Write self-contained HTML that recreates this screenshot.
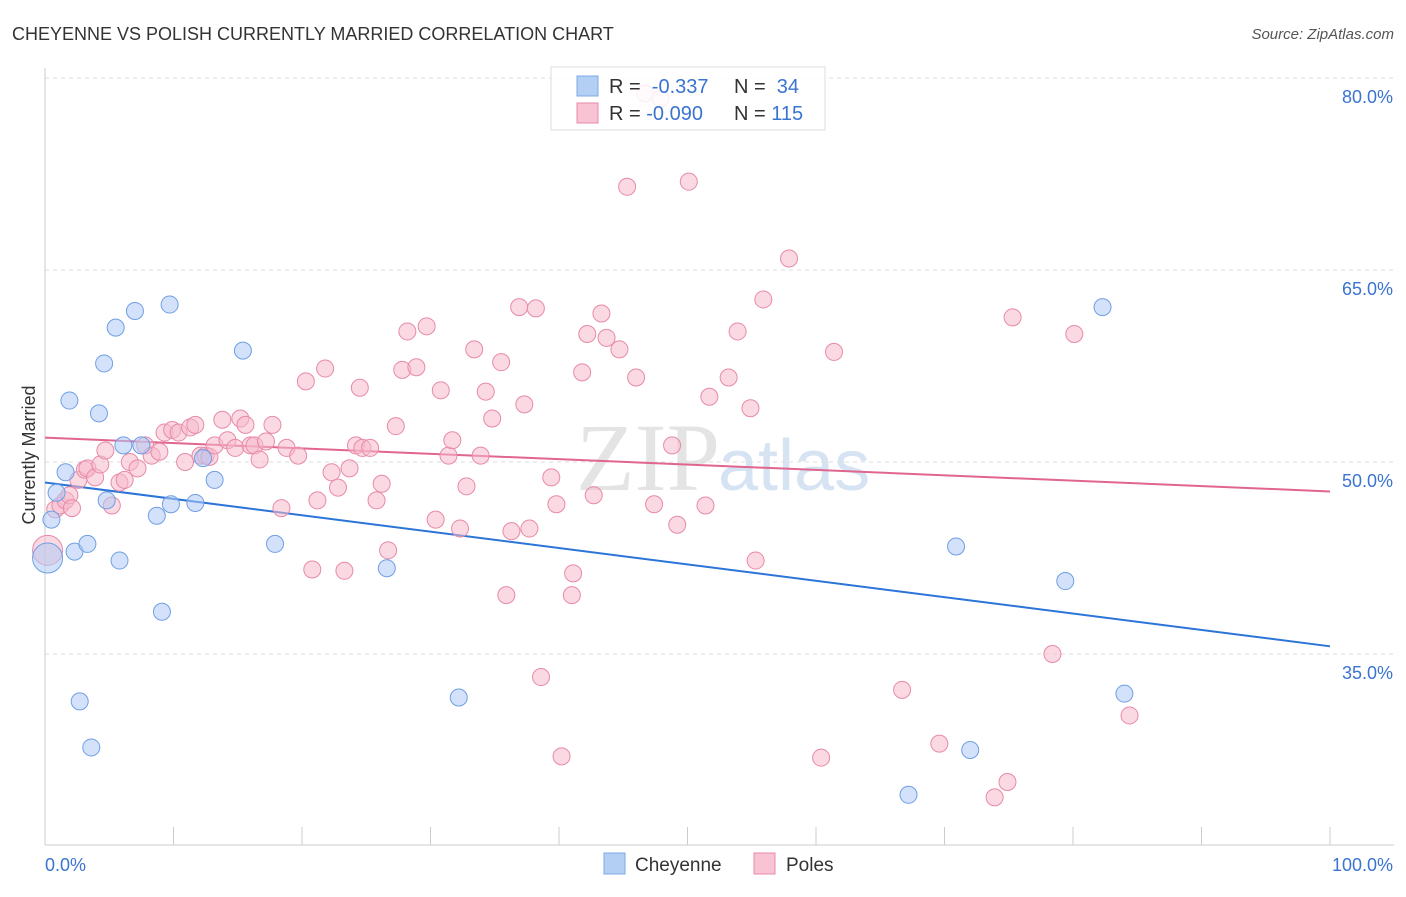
<!DOCTYPE html>
<html><head><meta charset="utf-8"><style>
body{margin:0;background:#fff;width:1406px;height:892px;overflow:hidden;font-family:"Liberation Sans",sans-serif}
</style></head><body>
<svg id="chart" width="1406" height="892" xmlns="http://www.w3.org/2000/svg" font-family="Liberation Sans, sans-serif">
<text x="12" y="40" font-size="18" fill="#333">CHEYENNE VS POLISH CURRENTLY MARRIED CORRELATION CHART</text>
<text x="1394" y="39" font-size="15" fill="#555" font-style="italic" text-anchor="end">Source: ZipAtlas.com</text>
<text x="720" y="490" font-size="96" fill="#e4e4e4" text-anchor="end" font-family="Liberation Serif, serif">ZIP</text>
<text x="718" y="490" font-size="72" fill="#d6e3f3">atlas</text>
<g id="grid"></g><g id="axes"></g><g id="lines"></g><g id="pts"></g>
<text x="35" y="455" font-size="18" fill="#333" transform="rotate(-90 35 455)" text-anchor="middle">Currently Married</text>
<g>
<rect x="551" y="67" width="274" height="63" fill="#fff" fill-opacity="0.85" stroke="#ddd"/>
<rect x="577" y="76" width="21" height="20" fill="#b3cff4" stroke="#7fa9e6"/>
<rect x="577" y="103" width="21" height="20" fill="#f8c4d3" stroke="#e88aa8"/>
<text x="609" y="93" font-size="20" fill="#333">R = <tspan fill="#3a74d0">&#160;-0.337</tspan></text>
<text x="734" y="93" font-size="20" fill="#333">N = <tspan fill="#3a74d0">&#160;34</tspan></text>
<text x="609" y="120" font-size="20" fill="#333">R = <tspan fill="#3a74d0">-0.090</tspan></text>
<text x="734" y="120" font-size="20" fill="#333">N = <tspan fill="#3a74d0">115</tspan></text>
</g>
<g>
<rect x="604" y="853" width="21" height="21" fill="#b3cff4" stroke="#7fa9e6"/>
<text x="635" y="871" font-size="19" fill="#333">Cheyenne</text>
<rect x="754" y="853" width="21" height="21" fill="#f8c4d3" stroke="#e88aa8"/>
<text x="786" y="871" font-size="19" fill="#333">Poles</text>
</g>
</svg>
<script>
const yTicks=[35,50,65,80];
const yTickLabels=["35.0%","50.0%","65.0%","80.0%"];
const xTicks=[0,10,20,30,40,50,60,70,80,90,100];
const xEndLabels=["0.0%","100.0%"];
const blueX=[0.2,0.5,0.9,1.6,1.9,2.3,2.7,3.3,3.6,4.2,4.6,4.8,5.5,5.8,6.1,7.0,7.5,8.7,9.1,9.7,9.8,11.7,12.3,13.2,15.4,17.9,26.6,32.2,67.2,70.9,72.0,79.4,82.3,84.0];
const blueY=[42.5,45.5,47.6,49.2,54.8,43.0,31.3,43.6,27.7,53.8,57.7,47.0,60.5,42.3,51.3,61.8,51.3,45.8,38.3,62.3,46.7,46.8,50.3,48.6,58.7,43.6,41.7,31.6,24.0,43.4,27.5,40.7,62.1,31.9];
const pinkX=[0.2,0.8,1.2,1.6,1.9,2.1,2.6,3.1,3.3,3.9,4.3,4.7,5.2,5.8,6.2,6.6,7.2,7.8,8.3,8.9,9.3,9.9,10.4,10.9,11.3,11.7,12.1,12.5,12.8,13.2,13.8,14.2,14.8,15.2,15.6,16.0,16.3,16.7,17.2,17.7,18.4,18.8,19.7,20.3,20.8,21.2,21.8,22.3,22.8,23.3,23.7,24.2,24.5,24.7,25.3,25.8,26.2,26.7,27.3,27.8,28.2,28.9,29.7,30.4,30.8,31.4,31.7,32.3,32.8,33.4,33.9,34.3,34.8,35.5,35.9,36.3,36.9,37.3,37.7,38.2,38.6,39.4,39.8,40.2,41.1,41.0,41.8,42.2,42.7,43.3,43.7,44.7,45.3,46.0,46.7,47.4,47.9,48.8,49.2,50.1,51.4,51.7,53.2,53.9,54.9,55.3,55.9,57.9,60.4,61.4,66.7,69.6,73.9,74.9,75.3,78.4,80.1,84.4];
const pinkY=[43.1,46.3,46.6,47.0,47.4,46.4,48.6,49.4,49.5,48.8,49.8,50.9,46.6,48.4,48.6,50.0,49.5,51.3,50.5,50.8,52.3,52.5,52.3,50.0,52.7,52.9,50.5,50.5,50.4,51.3,53.3,51.7,51.1,53.4,52.9,51.3,51.3,50.2,51.6,52.9,46.4,51.1,50.5,56.3,41.6,47.0,57.3,49.2,48.0,41.5,49.5,51.3,55.8,51.1,51.1,47.0,48.3,43.1,52.8,57.2,60.2,57.4,60.6,45.5,55.6,50.5,51.7,44.8,48.1,58.8,50.5,55.5,53.4,57.8,39.6,44.6,62.1,54.5,44.8,62.0,33.2,48.8,46.7,27.0,41.3,39.6,57.0,60.0,47.4,61.6,59.7,58.8,71.5,56.6,78.8,46.7,78.4,51.3,45.1,71.9,46.6,55.1,56.6,60.2,54.2,42.3,62.7,65.9,26.9,58.6,32.2,28.0,23.8,25.0,61.3,35.0,60.0,30.2];
const blueTrend=[48.4,35.6];
const pinkTrend=[51.9,47.7];
const NS="http://www.w3.org/2000/svg";
function X(v){return 45+v*12.85;}
function Y(v){return 462-(v-50)*12.8;}
function mk(tag,attrs,parent){const e=document.createElementNS(NS,tag);for(const k in attrs)e.setAttribute(k,attrs[k]);document.getElementById(parent).appendChild(e);return e;}
yTicks.forEach((t,i)=>{
  const g=mk('line',{x1:45,x2:1394,y1:Y(t),y2:Y(t),stroke:'#ddd','stroke-dasharray':'4,4'},'grid');
  
  
  const l=mk('text',{x:1393,y:Y(t)+25,'font-size':18,fill:'#3a74d0','text-anchor':'end'},'axes');
  l.textContent=yTickLabels[i];
  
  
});
const ya=mk('line',{x1:45,x2:45,y1:68,y2:845,stroke:'#ccc'},'axes');


const xa=mk('line',{x1:45,x2:1394,y1:845,y2:845,stroke:'#ccc'},'axes');


xTicks.forEach(t=>{
  const k=mk('line',{x1:X(t),x2:X(t),y1:827,y2:845,stroke:'#ccc'},'axes');
  
  
});
[[0,'start'],[100,'end']].forEach((p,i)=>{
  const l=mk('text',{x:i?X(100)+63:45,y:871,'font-size':18,fill:'#3a74d0','text-anchor':p[1]},'axes');
  l.textContent=xEndLabels[i];
  
  
});
function pts(xs,ys,fill,stroke,name){
  xs.forEach((x,i)=>{
    const r=(x<0.5&&i===0)?15:8.5;
    const c=mk('circle',{cx:X(x),cy:Y(ys[i]),r:r,fill:fill,'fill-opacity':0.55,stroke:stroke,'stroke-width':1},'pts');
    
    
  });
}
pts(pinkX,pinkY,'#f6b9cc','#e88aa8','poles-point');
pts(blueX,blueY,'#aecbf5','#6f9fe3','cheyenne-point');
const bl=mk('line',{x1:X(0),y1:Y(blueTrend[0]),x2:X(100),y2:Y(blueTrend[1]),stroke:'#2b74d8','stroke-width':2},'lines');


const pl=mk('line',{x1:X(0),y1:Y(pinkTrend[0]),x2:X(100),y2:Y(pinkTrend[1]),stroke:'#e0658f','stroke-width':2},'lines');


</script>
</body></html>
